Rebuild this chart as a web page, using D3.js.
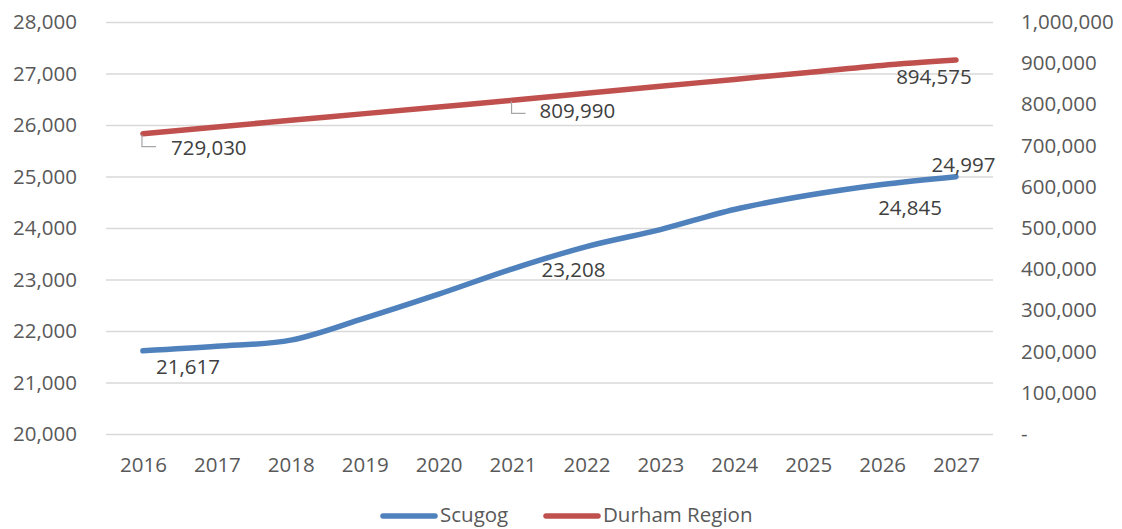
<!DOCTYPE html>
<html>
<head>
<meta charset="utf-8">
<script src="https://cdn.jsdelivr.net/npm/d3@7"></script>
<style>
  html, body { margin: 0; padding: 0; background: #fff; }
  svg { display: block; font-family: "Open Sans", "Noto Sans", sans-serif; }
</style>
</head>
<body>
<svg id="chart" width="1122" height="529"></svg>
<script>
// ---- data ----
const years = ["2016","2017","2018","2019","2020","2021","2022","2023","2024","2025","2026","2027"];
const scugog = [21617, 21705, 21822, 22250, 22715, 23208, 23640, 23970, 24360, 24635, 24845, 24997];
const durham = [729030, 745200, 761400, 777600, 793800, 809990, 826900, 843800, 860700, 877600, 894575, 907500];
const leftTicks = [20000, 21000, 22000, 23000, 24000, 25000, 26000, 27000, 28000];
const rightTicks = [0, 100000, 200000, 300000, 400000, 500000, 600000, 700000, 800000, 900000, 1000000];
const seriesNames = ["Scugog", "Durham Region"];
// which points carry a data label
const scugogLabelIdx = [0, 5, 10, 11];
const durhamLabelIdx = [0, 5, 10];

// ---- styling / layout ----
const colors = ["#4F81BD", "#C0504D"];
const plot = { left: 106, right: 993, top: 22, bottom: 434 };
const fontSize = 20.5;

const svg = d3.select("#chart");

const x = d3.scalePoint().domain(years).range([plot.left, plot.right]).padding(0.5);
const yL = d3.scaleLinear().domain([20000, 28000]).range([plot.bottom, plot.top]);
const yR = d3.scaleLinear().domain([0, 1000000]).range([plot.bottom, plot.top]);

// gridlines
svg.append("g")
  .attr("transform", `translate(${plot.left},0)`)
  .call(d3.axisLeft(yL).tickValues(leftTicks).tickSize(-(plot.right - plot.left)).tickFormat(""))
  .call(g => g.select(".domain").remove())
  .call(g => g.selectAll("line").attr("stroke", "#D9D9D9").attr("stroke-width", 1.5));

// left axis
svg.append("g")
  .attr("transform", `translate(77,0)`)
  .call(d3.axisLeft(yL).tickValues(leftTicks).tickSize(0).tickPadding(0).tickFormat(d3.format(",")))
  .call(g => g.select(".domain").remove())
  .call(g => g.selectAll("text").attr("fill", "#595959").attr("font-size", fontSize).attr("font-family", "Open Sans"));

// right axis
svg.append("g")
  .attr("transform", `translate(1021,0)`)
  .call(d3.axisRight(yR).tickValues(rightTicks).tickSize(0).tickPadding(0)
    .tickFormat(d => d === 0 ? "-" : d3.format(",")(d)))
  .call(g => g.select(".domain").remove())
  .call(g => g.selectAll("text").attr("fill", "#595959").attr("font-size", fontSize).attr("font-family", "Open Sans"));

// bottom axis
svg.append("g")
  .attr("transform", `translate(0,${plot.bottom})`)
  .call(d3.axisBottom(x).tickSize(0).tickPadding(23))
  .call(g => g.select(".domain").remove())
  .call(g => g.selectAll("text").attr("fill", "#595959").attr("font-size", fontSize).attr("font-family", "Open Sans"));

// lines
const curve = d3.curveCatmullRom.alpha(0.5);
const lineL = d3.line().x((d, i) => x(years[i])).y(d => yL(d)).curve(curve);
const lineR = d3.line().x((d, i) => x(years[i])).y(d => yR(d)).curve(curve);

svg.append("path").datum(durham).attr("d", lineR)
  .attr("fill", "none").attr("stroke", colors[1]).attr("stroke-width", 5.5).attr("stroke-linecap", "round").attr("stroke-linejoin", "round");
svg.append("path").datum(scugog).attr("d", lineL)
  .attr("fill", "none").attr("stroke", colors[0]).attr("stroke-width", 5.5).attr("stroke-linecap", "round").attr("stroke-linejoin", "round");

// data labels (offsets are layout, relative to the point)
const labelColor = "#404040";
const scugogOffsets = [[13, 23, "start"], [29, 8, "start"], [-4, 31, "start"], [7.5, -5, "middle"]];
scugogLabelIdx.forEach((idx, k) => {
  const px = x(years[idx]), py = yL(scugog[idx]);
  const o = scugogOffsets[k];
  svg.append("text").attr("x", px + o[0]).attr("y", py + o[1]).attr("text-anchor", o[2])
    .attr("fill", labelColor).attr("font-size", fontSize).text(d3.format(",")(scugog[idx]));
});

const durhamOffsets = [[28, 21, "start", true], [27, 18, "start", true], [14, 19, "start", false]];
durhamLabelIdx.forEach((idx, k) => {
  const px = x(years[idx]), py = yR(durham[idx]);
  const o = durhamOffsets[k];
  if (o[3]) {
    svg.append("path")
      .attr("d", `M${px - 1},${py + 1}V${py + 13}H${px + 13}`)
      .attr("fill", "none").attr("stroke", "#A6A6A6").attr("stroke-width", 1.2);
  }
  svg.append("text").attr("x", px + o[0]).attr("y", py + o[1]).attr("text-anchor", o[2])
    .attr("fill", labelColor).attr("font-size", fontSize).text(d3.format(",")(durham[idx]));
});

// legend
const legendItems = [
  { name: seriesNames[0], color: colors[0], x0: 383 },
  { name: seriesNames[1], color: colors[1], x0: 546 }
];
const legY = 516;
legendItems.forEach(it => {
  svg.append("line").attr("x1", it.x0).attr("x2", it.x0 + 52).attr("y1", legY).attr("y2", legY)
    .attr("stroke", it.color).attr("stroke-width", 5.5).attr("stroke-linecap", "round");
  svg.append("text").attr("x", it.x0 + 57).attr("y", legY + 6).attr("fill", "#595959")
    .attr("font-size", fontSize).text(it.name);
});
</script>
</body>
</html>
